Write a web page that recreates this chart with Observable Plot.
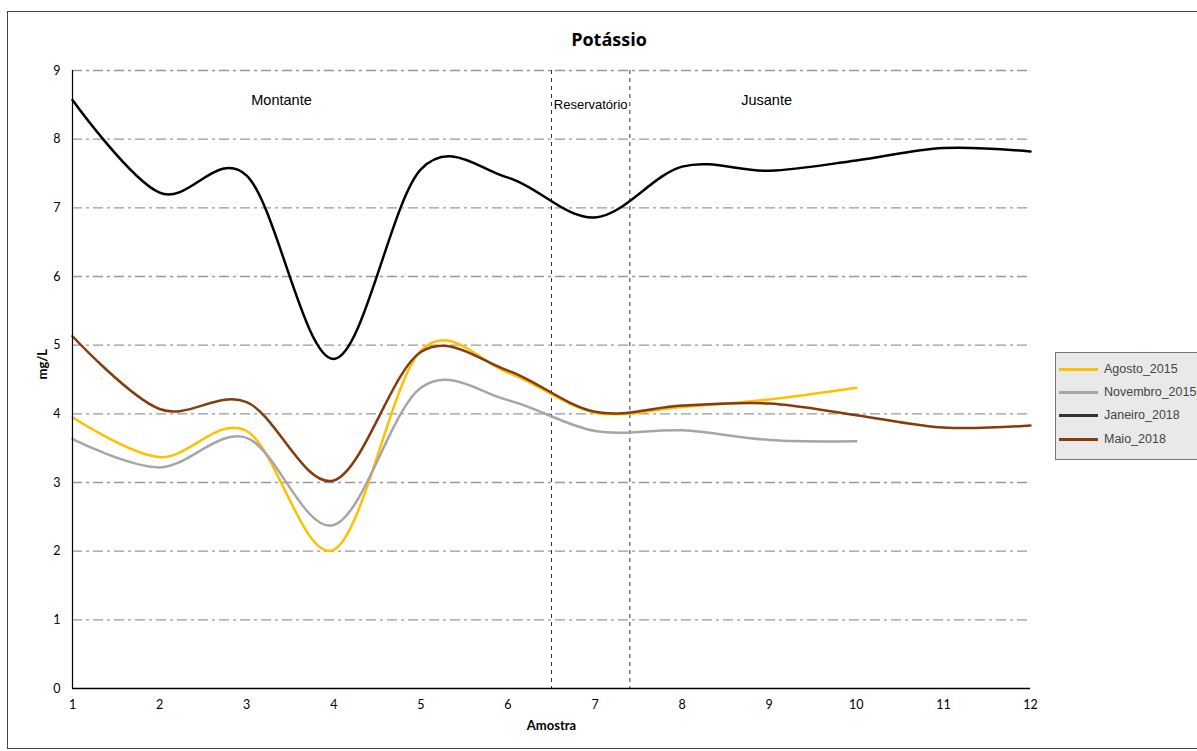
<!DOCTYPE html>
<html><head><meta charset="utf-8">
<script src="https://cdn.jsdelivr.net/npm/d3@7"></script>
<script src="https://cdn.jsdelivr.net/npm/@observablehq/plot@0.6"></script>
<style>
body{margin:0;background:#fff;}
#wrap{position:relative;width:1197px;height:751px;overflow:hidden;}
#border{position:absolute;left:7px;top:11px;width:1200px;height:738px;border:1px solid #444;box-sizing:border-box;}
#title{position:absolute;left:0;width:1218px;top:27px;text-align:center;font:bold 18px "Open Sans",Lato,sans-serif;color:#000;}
#legend{position:absolute;left:1055px;top:352px;width:150px;height:108px;background:#e9e9e9;border:1px solid #777;box-sizing:border-box;font:12.5px "Liberation Sans",Arial,sans-serif;color:#444;}
.row{position:absolute;left:3px;height:16px;display:flex;align-items:center;}
.sw{width:39px;height:3px;margin-right:6px;}
</style></head>
<body><div id="wrap"><div id="border"></div><div id="title">Potássio</div><div id="chart" style="position:absolute;left:0;top:0"></div><div id="legend"></div></div>
<script>
const amostra = [1,2,3,4,5,6,7,8,9,10,11,12];
const agosto2015   = [3.95,3.37,3.75,2.02,4.92,4.60,4.02,4.10,4.21,4.38];
const novembro2015 = [3.63,3.22,3.65,2.38,4.38,4.20,3.75,3.76,3.62,3.60];
const janeiro2018  = [8.57,7.22,7.47,4.80,7.56,7.44,6.86,7.60,7.54,7.69,7.87,7.82];
const maio2018     = [5.13,4.07,4.17,3.03,4.90,4.63,4.03,4.12,4.15,3.98,3.80,3.83];
const seriesNames  = ["Agosto_2015","Novembro_2015","Janeiro_2018","Maio_2018"];
const seriesColors = ["#ffc000","#a6a6a6","#000000","#843c0c"];
const legendColors = ["#ffc000","#a6a6a6","#333333","#843c0c"];
const yTicks = [0,1,2,3,4,5,6,7,8,9];
const zoneLines = [6.5,7.4];
const zoneLabels = [{x:3.4,y:8.57,t:"Montante"},{x:6.95,y:8.5,t:"Reservatório"},{x:8.97,y:8.57,t:"Jusante"}];

const allSeries = [agosto2015,novembro2015,janeiro2018,maio2018];
const data = [];
allSeries.forEach((vals,i)=>vals.forEach((v,j)=>data.push({s:seriesNames[i],x:amostra[j],y:v})));

const chart = Plot.plot({
  width:1197, height:751,
  marginLeft:72, marginRight:167, marginTop:70, marginBottom:63,
  x:{domain:[1,12]}, y:{domain:[0,9]},
  color:{domain:seriesNames, range:seriesColors},
  style:{background:"transparent"},
  marks:[
    Plot.ruleY(yTicks.filter(d=>d>0),{stroke:"#999",strokeWidth:1.3,strokeDasharray:"10,4,3,4"}),
    Plot.ruleX(zoneLines,{stroke:"#333",strokeWidth:1,strokeDasharray:"4,4"}),
    Plot.line(data,{x:"x",y:"y",z:"s",stroke:"s",curve:"cardinal",strokeWidth:2.5}),
    Plot.ruleX([1],{stroke:"#000",strokeWidth:1.2}),
    Plot.ruleY([0],{stroke:"#000",strokeWidth:1.5}),
    Plot.text(zoneLabels,{x:"x",y:"y",text:"t",fontSize:d=>d.t==="Reservatório"?13:14.5,fontFamily:"Liberation Sans, Arial, sans-serif",fill:"#000"}),
    Plot.axisX(amostra,{tickSize:0,tickPadding:12,fontSize:12.5,fontFamily:"Lato, sans-serif",label:null,tickFormat:"d"}),
    Plot.axisY(yTicks,{tickSize:0,tickPadding:12,fontSize:12.5,fontFamily:"Lato, sans-serif",label:null,tickFormat:"d"}),
    Plot.text(["Amostra"],{frameAnchor:"bottom",dy:41,fontWeight:"bold",fontSize:13,fontFamily:"Lato, sans-serif"}),
    Plot.text(["mg/L"],{frameAnchor:"left",dx:-30,rotate:-90,fontWeight:"bold",fontSize:13,fontFamily:"Lato, sans-serif"})
  ]
});
document.getElementById("chart").appendChild(chart);

const leg = document.getElementById("legend");
const rowTops = [8,31,54,78];
seriesNames.forEach((n,i)=>{
  const r = document.createElement("div"); r.className="row"; r.style.top=rowTops[i]+"px";
  r.innerHTML = `<div class="sw" style="background:${legendColors[i]}"></div><span>${n}</span>`;
  leg.appendChild(r);
});
</script></body></html>
